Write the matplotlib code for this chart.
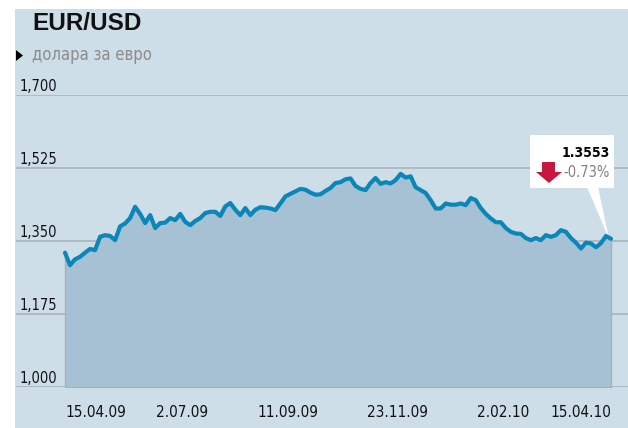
import matplotlib
matplotlib.use('Agg')
from matplotlib import pyplot as plt
from matplotlib.patches import Polygon, Rectangle
import matplotlib.dates as mdates
import numpy as np
import pandas as pd

# EUR/USD, daily-ish readings 15.04.09 - 15.04.10
start_date = '2009-04-15'
end_date = '2010-04-15'
rates = [1.322, 1.292, 1.306, 1.312, 1.322, 1.331, 1.328, 1.360, 1.364, 1.362,
         1.352, 1.385, 1.392, 1.405, 1.432, 1.415, 1.393, 1.412, 1.381, 1.393,
         1.394, 1.405, 1.400, 1.415, 1.396, 1.388, 1.398, 1.405, 1.417, 1.420,
         1.420, 1.410, 1.433, 1.441, 1.425, 1.412, 1.429, 1.412, 1.425, 1.431,
         1.430, 1.428, 1.424, 1.440, 1.457, 1.463, 1.469, 1.475, 1.473, 1.466,
         1.461, 1.462, 1.470, 1.477, 1.489, 1.491, 1.498, 1.500, 1.482, 1.475,
         1.472, 1.489, 1.501, 1.487, 1.491, 1.488, 1.496, 1.511, 1.502, 1.505,
         1.479, 1.472, 1.465, 1.448, 1.428, 1.428, 1.440, 1.437, 1.437, 1.440,
         1.436, 1.453, 1.448, 1.429, 1.415, 1.404, 1.395, 1.395, 1.381, 1.372,
         1.368, 1.367, 1.357, 1.352, 1.357, 1.352, 1.364, 1.360, 1.364, 1.376,
         1.372, 1.357, 1.346, 1.332, 1.346, 1.344, 1.335, 1.345, 1.362, 1.3553]
change_pct = -0.73

y_ticks = [1.000, 1.175, 1.350, 1.525, 1.700]
x_tick_dates = ['2009-04-15', '2009-07-02', '2009-09-11', '2009-11-23', '2010-02-02', '2010-04-15']
x_tick_labels = ['15.04.09', '2.07.09', '11.09.09', '23.11.09', '2.02.10', '15.04.10']

dates = pd.date_range(start_date, end_date, periods=len(rates))

BG = '#cddee8'
FILL = '#a5c1d3'
LINE = '#0a86b8'
GRID = '#a8b0b7'
NARROW = dict(family='DejaVu Sans', stretch='condensed')

W, H = 628, 428
fig = plt.figure(figsize=(W / 100, H / 100), dpi=100)
fig.patch.set_facecolor('white')
fig.patches.append(Rectangle((15 / W, 0), 1 - 15 / W, 1 - 9 / H,
                             transform=fig.transFigure, facecolor=BG,
                             edgecolor='none', zorder=-5))

# axes spans panel width (16..628 px), 1.000 at 387 px, 1.700 at 95 px
ax = fig.add_axes([16 / W, (H - 387) / H, 612 / W, 292 / H])
ax.set_facecolor('none')

d0 = mdates.date2num(dates[0])
d1 = mdates.date2num(dates[-1])
per_px = (d1 - d0) / 546.0
ax.set_xlim(d0 - 49 * per_px, d1 + 17 * per_px)
ax.set_ylim(1.0, 1.7)

for v in y_ticks:
    ax.axhline(v, color=GRID, lw=1.1, zorder=1)
    ax.annotate(f'{v:.3f}'.replace('.', ','), xy=(0.067, v),
                xycoords=('axes fraction', 'data'), xytext=(0, 1),
                textcoords='offset points', ha='right', va='bottom',
                fontsize=10.5, color='#111111', **NARROW)

ax.fill_between(dates, 1.0, rates, facecolor=FILL, edgecolor=GRID,
                lw=1.0, zorder=2)
ax.plot(dates, rates, color=LINE, lw=3.0, solid_capstyle='round',
        solid_joinstyle='round', zorder=5)

for s in ax.spines.values():
    s.set_visible(False)
ax.set_yticks([])
ax.set_xticks([mdates.date2num(pd.Timestamp(d)) for d in x_tick_dates])
ax.set_xticklabels(x_tick_labels, fontsize=11, color='#111111', **NARROW)
ax.tick_params(axis='x', length=0, pad=13)
lbls = ax.get_xticklabels()
lbls[0].set_ha('left')
lbls[-1].set_ha('right')

# callout box
ax.add_patch(Rectangle((0.840, 0.682), 0.137, 0.181, transform=ax.transAxes,
                       facecolor='white', edgecolor='none', zorder=3))
tip = ax.transAxes.inverted().transform(
    ax.transData.transform((d1 - 2 * per_px, rates[-1])))
ax.add_patch(Polygon([(0.933, 0.685), (0.951, 0.685), tuple(tip)],
                     closed=True, transform=ax.transAxes, facecolor='white',
                     edgecolor='none', zorder=3))
ax.add_patch(Polygon([(0.8595, 0.7705), (0.8807, 0.7705), (0.8807, 0.7363),
                      (0.8922, 0.7363), (0.8709, 0.6986), (0.8497, 0.7363),
                      (0.8595, 0.7363)], closed=True, transform=ax.transAxes,
                     facecolor='#c8173f', edgecolor='none', zorder=4))
ax.text(0.9706, 0.8014, f'{rates[-1]:.4f}', transform=ax.transAxes,
        ha='right', va='center', fontsize=10, fontweight='bold',
        color='black', zorder=6, **NARROW)
ax.text(0.9706, 0.7363, f'{change_pct:.2f}%', transform=ax.transAxes,
        ha='right', va='center', fontsize=10.5, color='#808080', zorder=6,
        **NARROW)

# title block
fig.text(32 / W, 1 - 12 / H, 'EUR/USD', ha='left', va='top', fontsize=17.5,
         fontweight='bold', family=['Liberation Sans', 'DejaVu Sans'], color='#111111')
fig.text(32 / W, 1 - 55.5 / H, 'долара за евро', ha='left', va='center',
         fontsize=12, color='#8c8c8c', **NARROW)
fig.patches.append(Polygon([(16 / W, 1 - 50 / H), (16 / W, 1 - 61 / H),
                            (23 / W, 1 - 55.5 / H)], closed=True,
                           transform=fig.transFigure, facecolor='black',
                           edgecolor='none', zorder=1))

fig.savefig('out.png', dpi=100)
